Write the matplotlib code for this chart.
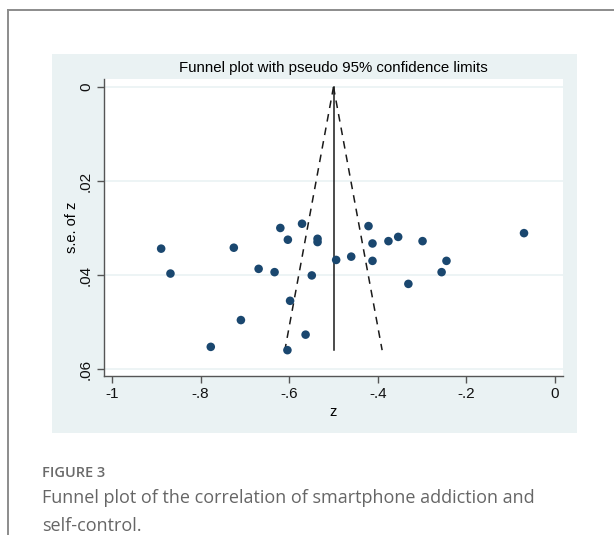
import numpy as np
import matplotlib
matplotlib.use("Agg")
import matplotlib.pyplot as plt
from matplotlib.patches import Rectangle
from matplotlib.lines import Line2D

# Study estimates (z) and their standard errors
z_values = [-0.889, -0.868, -0.725, -0.669, -0.633, -0.620, -0.603, -0.571,
            -0.536, -0.536, -0.549, -0.598, -0.494, -0.460, -0.421, -0.412,
            -0.412, -0.376, -0.354, -0.299, -0.331, -0.245, -0.256, -0.070,
            -0.709, -0.777, -0.563, -0.604]
se_values = [0.0344, 0.0397, 0.0342, 0.0387, 0.0394, 0.0300, 0.0325, 0.0291,
             0.0323, 0.0330, 0.0401, 0.0455, 0.0368, 0.0361, 0.0296, 0.0333,
             0.0370, 0.0328, 0.0319, 0.0328, 0.0419, 0.0370, 0.0394, 0.0311,
             0.0496, 0.0553, 0.0527, 0.0560]

pooled = -0.50
se_max = 0.056

x_ticks = [-1, -0.8, -0.6, -0.4, -0.2, 0]
x_tick_labels = ["-1", "-.8", "-.6", "-.4", "-.2", "0"]
y_ticks = [0, 0.02, 0.04, 0.06]
y_tick_labels = ["0", ".02", ".04", ".06"]

plt.rcParams["font.family"] = ["Liberation Sans", "DejaVu Sans"]

W, H = 614, 535
fig = plt.figure(figsize=(W / 100, H / 100), dpi=100)
fig.patch.set_facecolor("white")

def fx(px):
    return px / W

def fy(py):
    return 1 - py / H

# outer article frame (top and left rules)
fig.add_artist(Line2D([fx(8), 1], [fy(10), fy(10)], color="#8c8c8c", lw=1.4))
fig.add_artist(Line2D([fx(8), fx(8)], [fy(10), 0], color="#8c8c8c", lw=1.4))

# Stata graph region
fig.add_artist(Rectangle((fx(52), fy(433)), fx(577) - fx(52), fy(54) - fy(433),
                         transform=fig.transFigure, facecolor="#eaf2f3",
                         edgecolor="none", zorder=0))

ax = fig.add_axes([fx(104), fy(376), fx(563) - fx(104), fy(79) - fy(376)])
ax.set_facecolor("white")
ax.set_zorder(1)

# funnel lines
ax.plot([pooled, pooled], [0, se_max], color="#1a1a1a", lw=1.1, zorder=2)
ax.plot([pooled, pooled - 1.96 * se_max], [0, se_max], color="#1a1a1a",
        lw=1.1, ls=(0, (5, 4)), zorder=2)
ax.plot([pooled, pooled + 1.96 * se_max], [0, se_max], color="#1a1a1a",
        lw=1.1, ls=(0, (5, 4)), zorder=2)

ax.scatter(z_values, se_values, s=38, color="#1a476f", edgecolors="none", zorder=3)

ax.set_xlim(-1.018, 0.018)
ax.set_ylim(0.0615, -0.0017)

ax.set_xticks(x_ticks)
ax.set_xticklabels(x_tick_labels)
ax.set_yticks(y_ticks)
ax.set_yticklabels(y_tick_labels, rotation=90, va="center")
ax.grid(axis="y", color="#eaf2f3", lw=1.2)
ax.set_axisbelow(True)

for side in ["top", "right"]:
    ax.spines[side].set_visible(False)
for side in ["left", "bottom"]:
    ax.spines[side].set_color("#555555")
    ax.spines[side].set_linewidth(1.0)
ax.tick_params(direction="out", length=5, width=1, color="#555555",
               labelsize=11, labelcolor="#111111", pad=3)

ax.set_xlabel("z", fontsize=10.5, labelpad=3)
ax.set_ylabel("s.e. of z", fontsize=10.5)
ax.yaxis.set_label_coords(-0.054, 0.5)
ax.set_title("Funnel plot with pseudo 95% confidence limits", fontsize=10.8, pad=5)

# caption
fig.text(fx(42), fy(473), "FIGURE 3", fontsize=10.5, color="#6a6a6a",
         family="Open Sans", weight="semibold", va="center")
fig.text(fx(42), fy(498), "Funnel plot of the correlation of smartphone addiction and",
         fontsize=13, color="#666666", family="Open Sans", va="center")
fig.text(fx(42), fy(526), "self-control.",
         fontsize=13, color="#666666", family="Open Sans", va="center")

fig.savefig("out.png", dpi=100)
